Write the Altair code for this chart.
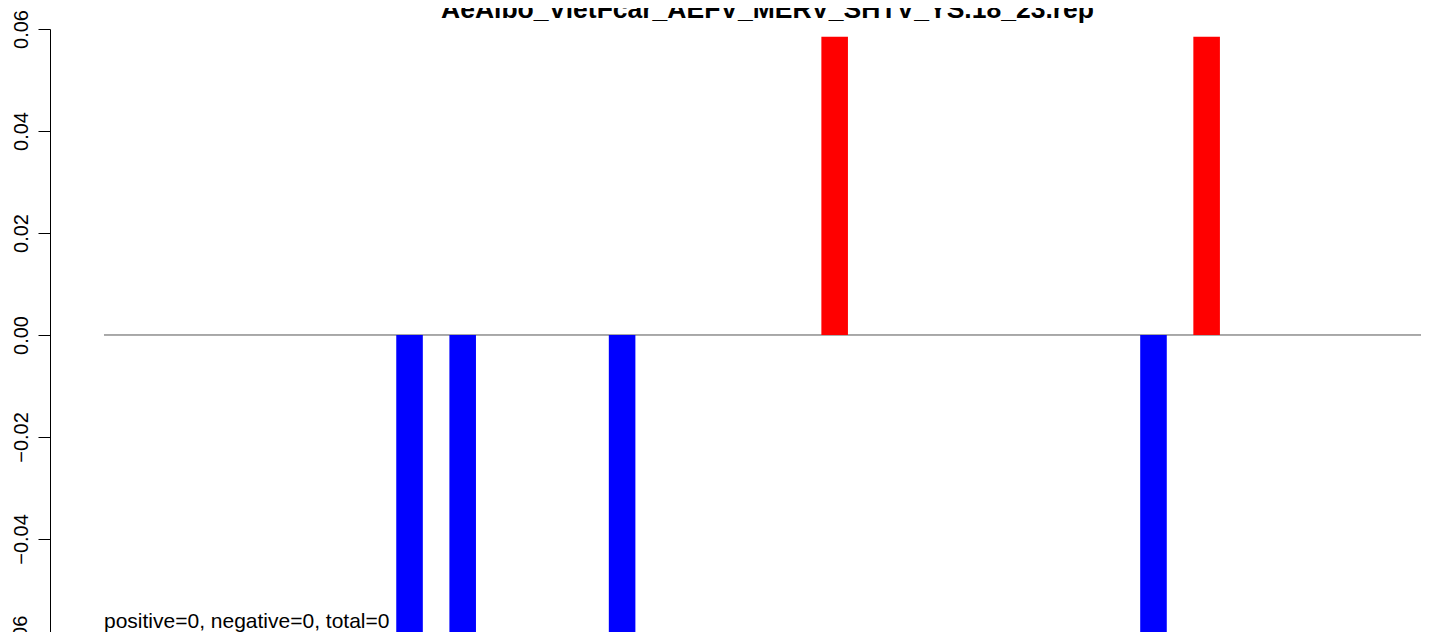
import altair as alt
import pandas as pd

title_text = "AeAlbo_VietFcar_AEFV_MERV_SHTV_YS.18_23.rep"
slots = [6, 7, 10, 14, 20, 21]
values = [-0.0585, -0.0585, -0.0585, 0.0585, -0.0585, 0.0585]
y_ticks = [-0.06, -0.04, -0.02, 0.0, 0.02, 0.04, 0.06]
note_text = "positive=0, negative=0, total=0"

bars_df = pd.DataFrame({
    "slot": slots,
    "value": values,
})
bars_df["x0"] = bars_df["slot"] * 2 - 1
bars_df["x1"] = bars_df["slot"] * 2

FONT = "Liberation Sans"
x_scale = alt.Scale(domain=[-2.032, 49.568], nice=False, zero=False)
y_scale = alt.Scale(domain=[-0.05824, 0.06], nice=False, zero=False)

y_axis = alt.Axis(
    values=y_ticks, format=".2f", grid=False, title=None,
    labelAngle=270, labelAlign="center", labelBaseline="alphabetic",
    labelFont=FONT, labelFontSize=20, labelColor="black",
    labelPadding=11, tickSize=12, tickColor="black", tickWidth=1,
    domainColor="black", domainWidth=1, labelFlush=False,
    labelOverlap=False, labelBound=False,
)

bars = alt.Chart(bars_df).mark_bar(stroke=None, clip=True).encode(
    x=alt.X("x0:Q", scale=x_scale, axis=None),
    x2="x1:Q",
    y=alt.Y("value:Q", scale=y_scale, axis=y_axis),
    y2=alt.datum(0),
    color=alt.condition(alt.datum.value > 0, alt.value("red"), alt.value("blue")),
)

zero_df = pd.DataFrame({"x0": [0], "x1": [60], "y": [0]})
zero_line = alt.Chart(zero_df).mark_rule(color="#555555", strokeWidth=1, clip=True).encode(
    x=alt.X("x0:Q", scale=x_scale, axis=None),
    x2="x1:Q",
    y=alt.Y("y:Q", scale=y_scale, axis=y_axis),
)

# lowest tick label lies just past the visible plot bottom (partly cut, as in the original)
low_df = pd.DataFrame({"y": [y_ticks[0]]})
low_label = alt.Chart(low_df).mark_text(
    angle=270, align="center", baseline="alphabetic", font=FONT,
    fontSize=20, color="black"
).encode(
    x=alt.value(-23),
    y=alt.Y("y:Q", scale=y_scale, axis=y_axis),
    text=alt.Text("y:Q", format=".2f"),
)

note_df = pd.DataFrame({"x": [0], "y": [min(values)], "label": [note_text]})
note = alt.Chart(note_df).mark_text(
    align="left", baseline="alphabetic", font=FONT, fontSize=21, color="black", dy=-5
).encode(
    x=alt.X("x:Q", scale=x_scale, axis=None),
    y=alt.Y("y:Q", scale=y_scale, axis=y_axis),
    text="label:N",
)

title_df = pd.DataFrame({"label": [title_text]})
title = alt.Chart(title_df).mark_text(
    align="center", baseline="alphabetic", font=FONT, fontSize=26.5,
    fontWeight="bold", color="black"
).encode(
    x=alt.value(717.5),
    y=alt.value(-11),
    text="label:N",
)

chart = alt.layer(zero_line, bars, low_label, note, title).properties(
    width=1371,
    height=603,
    padding={"left": 42, "top": 21, "right": 0, "bottom": 0},
    autosize=alt.AutoSizeParams(type="none"),
    background="white",
).configure_view(stroke=None)

chart.save("out.html", embed_options={"renderer": "svg", "actions": False})
